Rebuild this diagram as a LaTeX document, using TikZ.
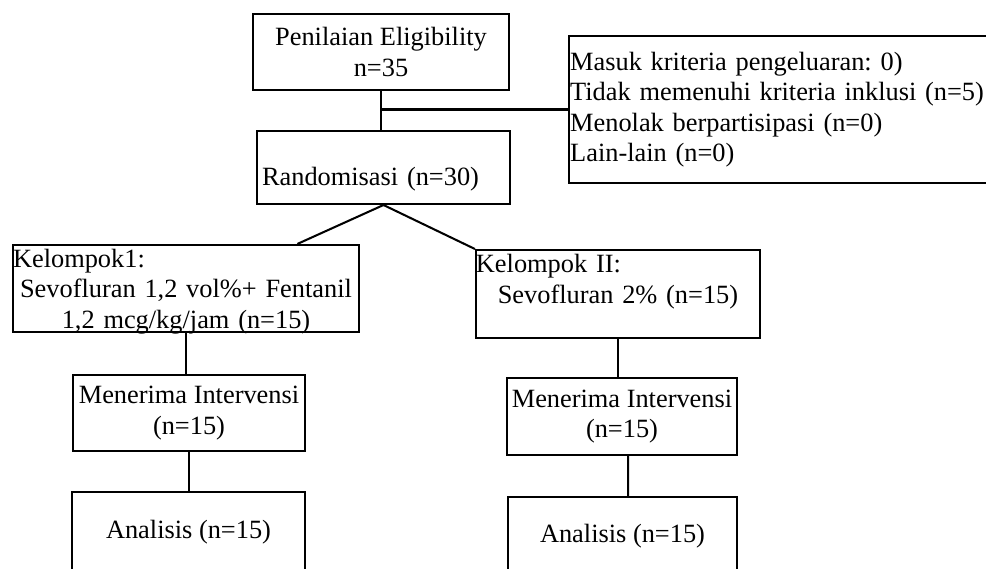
\documentclass[tikz,border=0pt]{standalone}
\usepackage{fontspec}
\setmainfont{Liberation Serif}
\usepackage{tikz}
\usetikzlibrary{calc}
\frenchspacing

\begin{document}
\begin{tikzpicture}[x=.44pt, y=-.44pt,
            box/.style={draw, line width=.9pt, inner sep=0pt, font=\fontsize{11.6}{13.4}\selectfont},
            link/.style={line width=.9pt}]
            \clip (0,0) rectangle (986,568);

            \node[box, align=center, minimum width=112.6pt, minimum height=33.4pt] (elig) at (381,52) {Penilaian Eligibility\\n=35};
            \node[box, align=left, text width=188.6pt, inner xsep=.5pt, minimum height=64.7pt] (excl) at (784.5,109.5) {Masuk kriteria pengeluaran: 0)\\Tidak memenuhi kriteria inklusi (n=5)\\Menolak berpartisipasi (n=0)\\Lain-lain (n=0)};
            \node[box, align=left, text width=106.9pt, inner xsep=2.2pt, minimum height=32.1pt, text height=18pt, text depth=2pt] (rand) at (383.5,167.5) {Randomisasi (n=30)};

            \node[box, align=center, text width=152.2pt, minimum height=38.3pt, inner ysep=1.2pt, text depth=26.8pt] (k1) at (186,288.5) {Kelompok1:\hfill\null\\Sevofluran 1,2 vol\%+ Fentanil\\1,2 mcg/kg/jam (n=15)};
            \node[box, align=center, text width=125pt, minimum height=38.7pt, inner ysep=1.2pt, text depth=26.8pt] (k2) at (618,294) {Kelompok II:\hfill\null\\Sevofluran 2\% (n=15)\\\null};

            \node[box, align=center, minimum width=102pt, minimum height=33.4pt] (m1) at (189,413) {Menerima Intervensi\\(n=15)};
            \node[box, minimum width=102.5pt, minimum height=35.2pt] (a1) at (188.5,532) {Analisis (n=15)};
            \node[box, align=center, minimum width=101.2pt, minimum height=33.9pt] (m2) at (622,416.5) {Menerima Intervensi\\(n=15)};
            \node[box, minimum width=100.8pt, minimum height=34.3pt] (a2) at (622.5,536) {Analisis (n=15)};

            \draw[link] (elig.south) -- (elig.south |- rand.north);
            \draw[link] (elig.south |- excl.west) -- (excl.west);
            \draw[link] (rand.south) -- ($(k1.north west)!.82!(k1.north east)$);
            \draw[link] (rand.south) -- (k2.north west);
            \draw[link] (k1.south) -- (k1.south |- m1.north);
            \draw[link] (m1.south) -- (m1.south |- a1.north);
            \draw[link] (k2.south) -- (k2.south |- m2.north);
            \draw[link] ($(m2.south west)!.526!(m2.south east)$) -- ($(a2.north west)!.524!(a2.north east)$);
\end{tikzpicture}
\end{document}
